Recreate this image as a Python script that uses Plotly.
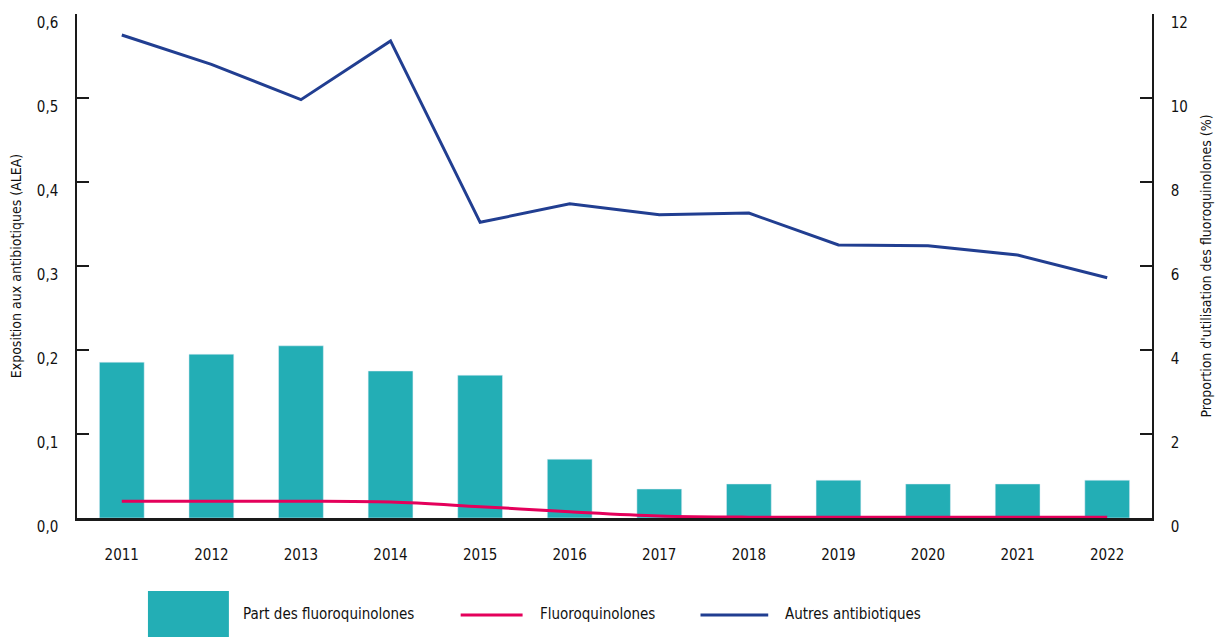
import plotly.graph_objects as go

years = ["2011", "2012", "2013", "2014", "2015", "2016", "2017", "2018", "2019", "2020", "2021", "2022"]
part_fq = [3.71, 3.90, 4.10, 3.50, 3.40, 1.40, 0.69, 0.81, 0.90, 0.81, 0.81, 0.90]
fluoroquinolones = [0.020, 0.020, 0.020, 0.019, 0.0135, 0.0075, 0.0025, 0.001, 0.001, 0.001, 0.001, 0.001]
autres = [0.575, 0.540, 0.498, 0.568, 0.352, 0.374, 0.361, 0.363, 0.325, 0.324, 0.313, 0.286]

left_ticks = [0, 0.1, 0.2, 0.3, 0.4, 0.5, 0.6]
left_ticktext = ["0,0", "0,1", "0,2", "0,3", "0,4", "0,5", "0,6"]
right_ticks = [0, 2, 4, 6, 8, 10, 12]

TEAL = "#23aeb5"
PINK = "#e4005b"
BLUE = "#213e91"
FONT = "DejaVu Sans Condensed, Liberation Sans Narrow, Roboto, sans-serif"

fig = go.Figure()
fig.add_trace(go.Bar(x=years, y=part_fq, marker_color=TEAL, width=0.5,
                     name="Part des fluoroquinolones", yaxis="y"))
fig.add_trace(go.Scatter(x=years, y=fluoroquinolones, mode="lines", line=dict(color=PINK, width=3, shape="spline"),
                         name="Fluoroquinolones", yaxis="y2"))
fig.add_trace(go.Scatter(x=years, y=autres, mode="lines", line=dict(color=BLUE, width=3),
                         name="Autres antibiotiques", yaxis="y2"))

fig.update_layout(
    width=1225, height=637,
    margin=dict(l=77, r=73, t=14, b=119),
    plot_bgcolor="white", paper_bgcolor="white",
    showlegend=False,
    font=dict(family=FONT, size=15, color="#111111"),
    xaxis=dict(type="category", showline=True, linecolor="#1a1a1a", linewidth=2.5, automargin=False,
               ticks="", showgrid=False, ticklabelstandoff=21, tickfont=dict(size=15)),
    yaxis=dict(side="right", range=[0, 12], tickvals=right_ticks, showline=True, linecolor="#1a1a1a",
               linewidth=1.5, ticks="inside", ticklen=12, tickwidth=1.5, tickcolor="#1a1a1a",
               showgrid=False, zeroline=False, ticklabelstandoff=14, ticklabelshift=9,
               ticklabeloverflow="allow", automargin=False,
               title=dict(text="Proportion d'utilisation des fluoroquinolones (%)", font=dict(size=14), standoff=14),
               tickfont=dict(size=15)),
    yaxis2=dict(side="left", overlaying="y", range=[0, 0.6], tickvals=left_ticks, ticktext=left_ticktext,
                showline=True, linecolor="#1a1a1a", linewidth=1.5, ticks="inside", ticklen=12, tickwidth=1.5,
                tickcolor="#1a1a1a", showgrid=False, zeroline=False, ticklabelstandoff=14, ticklabelshift=9,
                ticklabeloverflow="allow", automargin=False,
                title=dict(text="Exposition aux antibiotiques (ALEA)", font=dict(size=14), standoff=12),
                tickfont=dict(size=15)),
    bargap=0.5,
)

# custom legend
shapes = [
    dict(type="rect", xref="paper", yref="paper", x0=0.066, x1=0.1413, y0=-0.236, y1=-0.1448,
         fillcolor=TEAL, line=dict(width=0)),
    dict(type="line", xref="paper", yref="paper", x0=0.3569, x1=0.4145, y0=-0.1925, y1=-0.1925,
         line=dict(color=PINK, width=3)),
    dict(type="line", xref="paper", yref="paper", x0=0.58, x1=0.643, y0=-0.1925, y1=-0.1925,
         line=dict(color=BLUE, width=3)),
]
labels = [("Part des fluoroquinolones", 0.1524), ("Fluoroquinolones", 0.4284), ("Autres antibiotiques", 0.657)]
for txt, xp in labels:
    fig.add_annotation(text=txt, xref="paper", yref="paper", x=xp, y=-0.1905, xanchor="left", yanchor="middle",
                       showarrow=False, font=dict(size=15))
fig.update_layout(shapes=shapes)

fig.write_html("out.html", config={"displayModeBar": False},
               post_script="document.body.style.margin='0';document.body.style.overflow='hidden';")
